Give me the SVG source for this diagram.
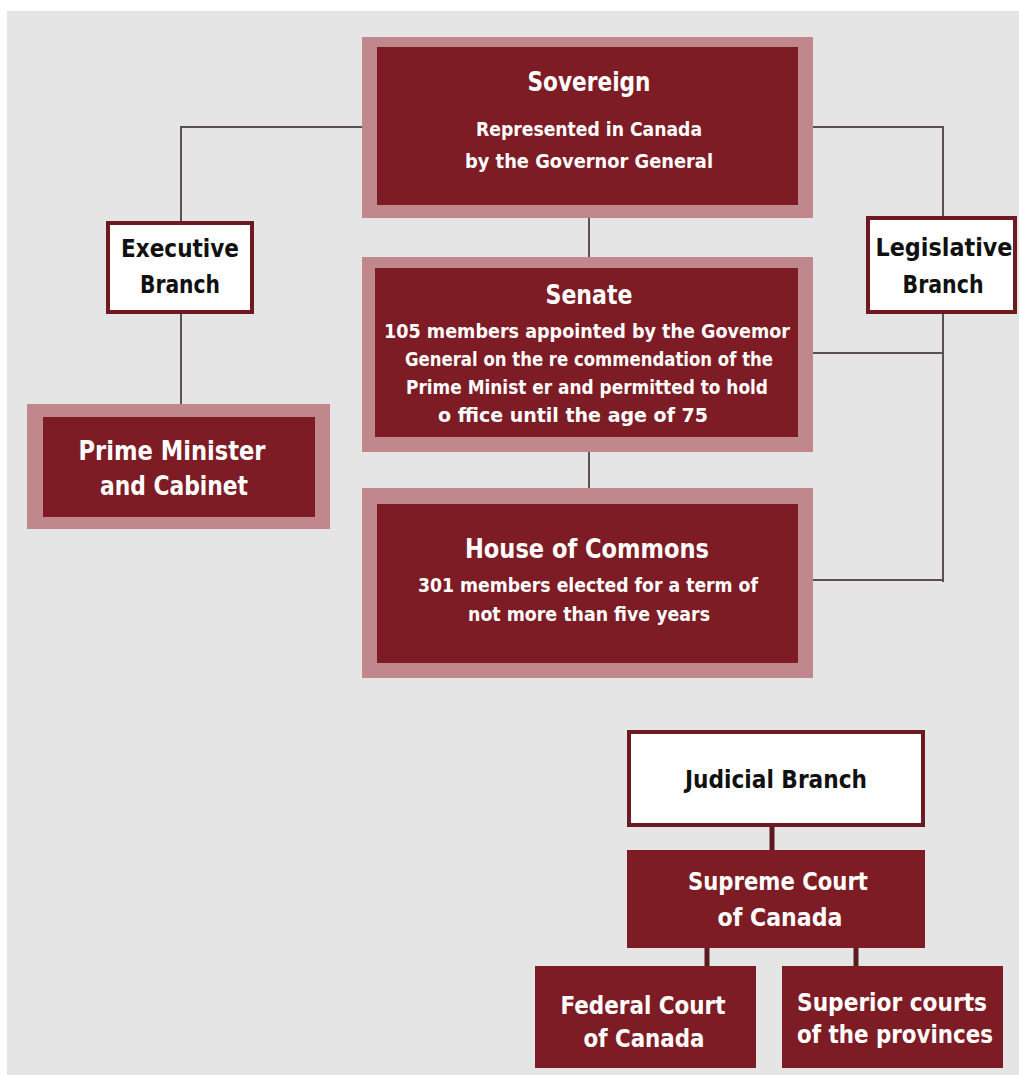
<svg xmlns="http://www.w3.org/2000/svg" width="1019" height="1075" viewBox="0 0 1019 1075">
<style>
.frame{fill:#c0888d}
.inner{fill:#7e1c25}
.solid{fill:#7e1c25}
.wbox{fill:#ffffff;stroke:#6e1a22;stroke-width:4}
.line{fill:none;stroke:#5a5050;stroke-width:2}
.jline{fill:none;stroke:#5a1a1f;stroke-width:5}
text{font-family:"Liberation Sans Narrow","DejaVu Sans Condensed","Liberation Sans",sans-serif;font-weight:bold;text-anchor:middle}
.w{fill:#ffffff}
.k{fill:#111111}
</style>
<rect x="0" y="0" width="1019" height="1075" fill="#ffffff"/>
<rect x="7" y="11" width="1012" height="1064" fill="#e5e5e5"/>
<g id="connectors">
<polyline class="line" points="362,127 181,127 181,222"/>
<polyline class="line" points="813,127 943,127 943,217"/>
<line class="line" x1="181" y1="313" x2="181" y2="404"/>
<line class="line" x1="589" y1="218" x2="589" y2="257"/>
<line class="line" x1="589" y1="452" x2="589" y2="488"/>
<line class="line" x1="943" y1="313" x2="943" y2="582"/>
<line class="line" x1="813" y1="353" x2="943" y2="353"/>
<line class="line" x1="813" y1="580" x2="943" y2="580"/>
<line class="jline" x1="772" y1="827" x2="772" y2="851"/>
<line class="jline" x1="707" y1="947" x2="707" y2="967"/>
<line class="jline" x1="856" y1="947" x2="856" y2="967"/>
</g>
<g id="sovereign">
<rect class="frame" x="362" y="37" width="451" height="181"/>
<rect class="inner" x="377" y="47" width="421" height="158"/>
<text class="w" x="589" y="91" font-size="27" textLength="123" lengthAdjust="spacingAndGlyphs">Sovereign</text>
<text class="w" x="589" y="136" font-size="20" textLength="226" lengthAdjust="spacingAndGlyphs">Represented in Canada</text>
<text class="w" x="589" y="168" font-size="20" textLength="248" lengthAdjust="spacingAndGlyphs">by the Governor General</text>
</g>
<g id="executive">
<rect class="wbox" x="108" y="223" width="144" height="89"/>
<text class="k" x="180" y="257" font-size="25" textLength="118" lengthAdjust="spacingAndGlyphs">Executive</text>
<text class="k" x="180" y="293" font-size="25" textLength="80" lengthAdjust="spacingAndGlyphs">Branch</text>
</g>
<g id="legislative">
<rect class="wbox" x="868" y="218" width="147" height="94"/>
<text class="k" x="944" y="256" font-size="25" textLength="137" lengthAdjust="spacingAndGlyphs">Legislative</text>
<text class="k" x="943" y="293" font-size="25" textLength="81" lengthAdjust="spacingAndGlyphs">Branch</text>
</g>
<g id="prime-minister">
<rect class="frame" x="27" y="404" width="303" height="125"/>
<rect class="inner" x="43" y="417" width="272" height="100"/>
<text class="w" x="172" y="460" font-size="27" textLength="187" lengthAdjust="spacingAndGlyphs">Prime Minister</text>
<text class="w" x="174" y="495" font-size="27" textLength="148" lengthAdjust="spacingAndGlyphs">and Cabinet</text>
</g>
<g id="senate">
<rect class="frame" x="362" y="257" width="451" height="195"/>
<rect class="inner" x="375" y="268" width="423" height="169"/>
<text class="w" x="589" y="304" font-size="26" textLength="87" lengthAdjust="spacingAndGlyphs">Senate</text>
<text class="w" x="587" y="338" font-size="19" textLength="406" lengthAdjust="spacingAndGlyphs">105 members appointed by the Govemor</text>
<text class="w" x="589" y="366" font-size="19" textLength="368" lengthAdjust="spacingAndGlyphs">General on the re commendation of the</text>
<text class="w" x="587" y="394" font-size="19" textLength="362" lengthAdjust="spacingAndGlyphs">Prime Minist er and permitted to hold</text>
<text class="w" x="573" y="422" font-size="19" textLength="270" lengthAdjust="spacingAndGlyphs">o ffice until the age of 75</text>
</g>
<g id="house-of-commons">
<rect class="frame" x="362" y="488" width="451" height="190"/>
<rect class="inner" x="377" y="504" width="421" height="159"/>
<text class="w" x="587" y="558" font-size="27" textLength="244" lengthAdjust="spacingAndGlyphs">House of Commons</text>
<text class="w" x="588" y="592" font-size="20" textLength="340" lengthAdjust="spacingAndGlyphs">301 members elected for a term of</text>
<text class="w" x="589" y="621" font-size="20" textLength="242" lengthAdjust="spacingAndGlyphs">not more than five years</text>
</g>
<g id="judicial">
<rect class="wbox" x="629" y="732" width="294" height="93"/>
<text class="k" x="776" y="788" font-size="25" textLength="182" lengthAdjust="spacingAndGlyphs">Judicial Branch</text>
</g>
<g id="supreme-court">
<rect class="solid" x="627" y="850" width="298" height="98"/>
<text class="w" x="778" y="890" font-size="25" textLength="180" lengthAdjust="spacingAndGlyphs">Supreme Court</text>
<text class="w" x="780" y="926" font-size="25" textLength="125" lengthAdjust="spacingAndGlyphs">of Canada</text>
</g>
<g id="federal-court">
<rect class="solid" x="535" y="966" width="221" height="102"/>
<text class="w" x="643" y="1014" font-size="25" textLength="165" lengthAdjust="spacingAndGlyphs">Federal Court</text>
<text class="w" x="644" y="1047" font-size="25" textLength="121" lengthAdjust="spacingAndGlyphs">of Canada</text>
</g>
<g id="superior-courts">
<rect class="solid" x="782" y="966" width="221" height="102"/>
<text class="w" x="892" y="1011" font-size="25" textLength="190" lengthAdjust="spacingAndGlyphs">Superior courts</text>
<text class="w" x="895" y="1043" font-size="25" textLength="196" lengthAdjust="spacingAndGlyphs">of the provinces</text>
</g>
</svg>
